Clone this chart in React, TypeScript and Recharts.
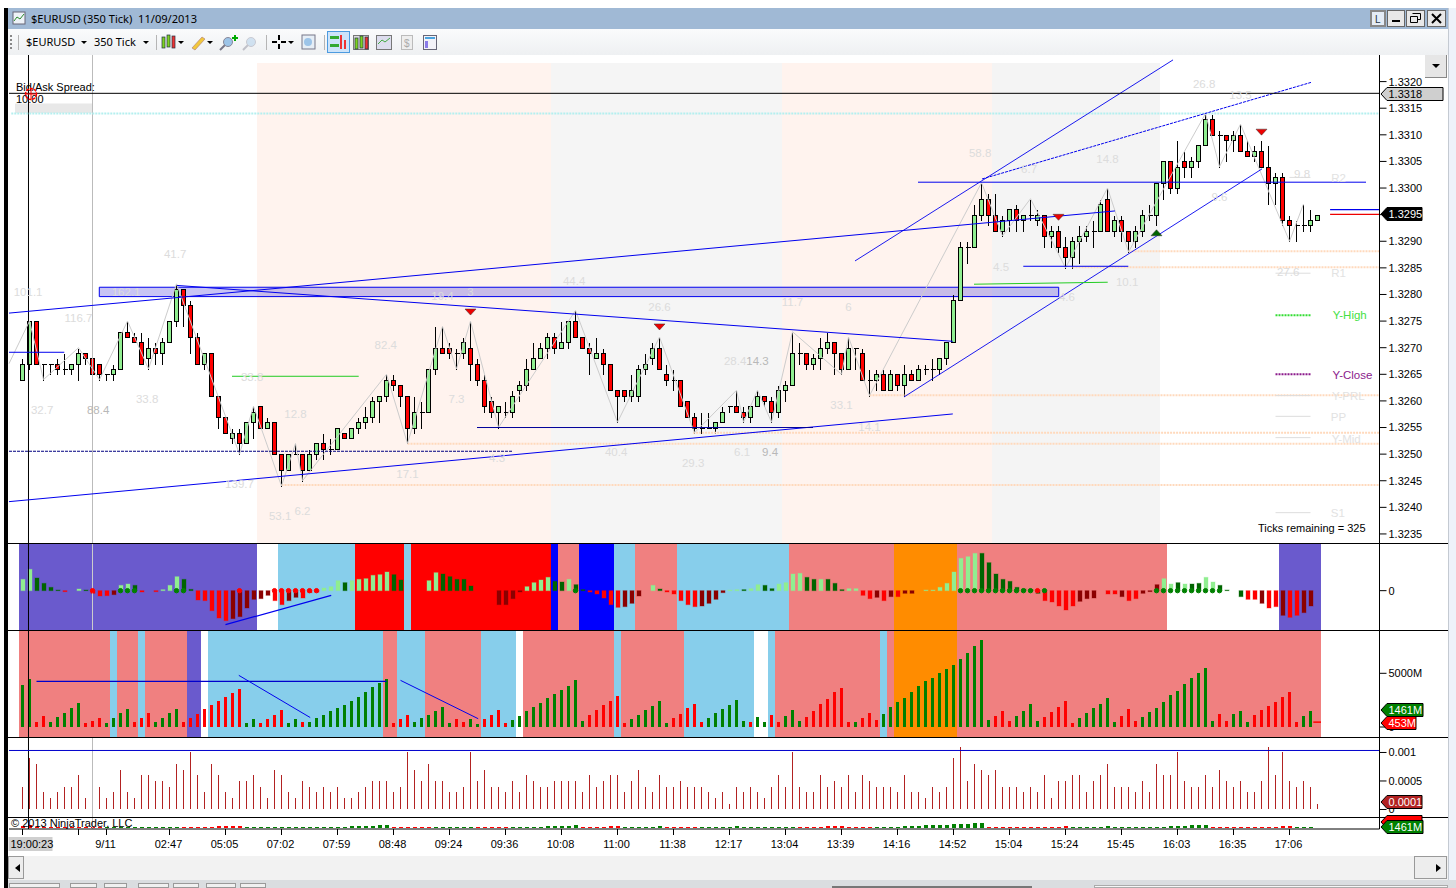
import React from 'react';
import { ComposedChart, Bar, Line, XAxis, YAxis, ReferenceArea, ReferenceLine, ReferenceDot } from 'recharts';

const opens = [3264,3267,3275,3267,3267,3267,3266,3266,3267,3269,3268,3267,3265,3265,3266,3273,3272,3271,3268,3270,3269,3271,3275,3281,3278,3272,3267,3269,3261,3257,3253,3254,3252,3256,3259,3255,3256,3250,3247,3250,3250,3247,3250,3252,3251,3251,3254,3253,3255,3256,3257,3260,3261,3264,3263,3261,3255,3258,3258,3266,3270,3270,3269,3269,3270,3267,3264,3260,3258,3258,3258,3262,3263,3266,3268,3270,3272,3270,3271,3275,3272,3270,3268,3269,3267,3262,3262,3261,3261,3266,3268,3270,3265,3264,3264,3260,3257,3255,3255,3255,3256,3259,3259,3258,3257,3259,3261,3260,3258,3262,3263,3269,3269,3267,3268,3270,3271,3269,3266,3270,3269,3264,3264,3265,3262,3265,3263,3265,3264,3266,3266,3266,3268,3271,3279,3289,3289,3295,3298,3295,3292,3294,3296,3294,3295,3294,3295,3291,3292,3289,3287,3290,3291,3292,3292,3298,3292,3294,3292,3290,3292,3295,3295,3301,3305,3300,3305,3304,3305,3308,3313,3310,3310,3309,3310,3307,3306,3307,3304,3301,3302,3294,3293,3293,3293,3294];
const highs = [3268,3275,3275,3267,3267,3268,3269,3267,3270,3269,3268,3267,3265,3267,3273,3275,3273,3273,3272,3271,3272,3275,3282,3281,3279,3273,3269,3269,3261,3257,3255,3255,3256,3259,3259,3257,3256,3250,3250,3252,3250,3251,3252,3254,3253,3255,3254,3255,3257,3259,3261,3261,3265,3265,3263,3261,3261,3260,3266,3274,3274,3271,3270,3272,3275,3268,3265,3261,3259,3260,3262,3264,3268,3271,3271,3273,3273,3275,3275,3277,3272,3271,3272,3270,3267,3262,3262,3265,3267,3269,3271,3272,3267,3266,3264,3260,3258,3258,3258,3256,3259,3259,3262,3259,3259,3262,3261,3261,3263,3264,3273,3271,3269,3269,3272,3273,3271,3269,3272,3270,3270,3266,3266,3266,3266,3265,3267,3266,3267,3267,3268,3268,3271,3280,3290,3290,3297,3301,3299,3299,3295,3296,3297,3295,3298,3296,3295,3293,3293,3291,3291,3293,3293,3294,3298,3300,3295,3295,3292,3293,3296,3297,3301,3305,3305,3309,3307,3306,3308,3314,3314,3311,3310,3311,3312,3309,3308,3309,3308,3303,3303,3295,3294,3297,3296,3295];
const lows = [3264,3266,3267,3264,3265,3265,3265,3265,3264,3267,3265,3264,3264,3264,3266,3272,3271,3267,3266,3267,3267,3271,3274,3274,3269,3267,3266,3261,3255,3254,3252,3250,3252,3253,3255,3255,3250,3244,3247,3250,3245,3247,3249,3249,3250,3251,3253,3253,3254,3255,3256,3256,3260,3262,3259,3252,3254,3255,3258,3265,3269,3268,3266,3268,3264,3263,3258,3257,3255,3257,3257,3260,3262,3266,3268,3268,3269,3270,3270,3272,3270,3265,3268,3265,3262,3256,3260,3260,3260,3265,3267,3266,3263,3262,3259,3257,3254,3254,3255,3254,3256,3258,3258,3256,3256,3259,3259,3256,3257,3260,3263,3267,3266,3266,3266,3269,3265,3265,3266,3266,3264,3261,3262,3262,3262,3262,3261,3264,3264,3265,3264,3265,3267,3271,3279,3286,3289,3294,3293,3292,3291,3292,3292,3292,3294,3293,3289,3289,3288,3285,3285,3286,3290,3289,3292,3292,3291,3290,3288,3289,3291,3294,3293,3298,3299,3299,3302,3302,3304,3308,3310,3304,3305,3307,3307,3306,3305,3304,3297,3297,3293,3290,3290,3292,3292,3294];
const closes = [3267,3275,3267,3267,3267,3266,3266,3267,3269,3268,3265,3265,3265,3266,3273,3272,3271,3267,3270,3269,3271,3275,3281,3278,3272,3267,3269,3261,3257,3254,3254,3252,3256,3258,3255,3256,3250,3247,3250,3250,3247,3250,3252,3251,3251,3255,3253,3255,3256,3257,3260,3261,3264,3263,3261,3255,3258,3258,3266,3270,3269,3269,3269,3271,3267,3264,3259,3258,3259,3258,3261,3263,3266,3268,3270,3272,3270,3271,3275,3272,3270,3269,3269,3267,3262,3261,3261,3262,3266,3267,3270,3266,3264,3264,3259,3257,3255,3255,3255,3256,3258,3259,3258,3257,3259,3261,3260,3258,3262,3263,3269,3269,3267,3268,3270,3271,3269,3266,3270,3270,3264,3264,3265,3262,3265,3263,3265,3264,3266,3266,3266,3268,3271,3279,3289,3289,3295,3298,3295,3292,3294,3296,3294,3295,3295,3295,3291,3292,3289,3287,3290,3291,3292,3292,3297,3292,3294,3292,3290,3292,3295,3295,3301,3305,3300,3304,3304,3305,3308,3313,3310,3310,3309,3310,3307,3306,3307,3304,3301,3302,3294,3293,3293,3293,3294,3295];

const zigIdx = [1,3,8,11,15,18,22,31,33,37,39,40,52,55,60,62,64,68,79,85,91,96,102,103,105,107,110,117,118,121,137,140,144,149,155,158,169,171,174,181,183];
const zigPips = [3275,3264,3270,3264,3275,3266,3282,3250,3259,3244,3252,3245,3265,3252,3274,3266,3275,3255,3277,3256,3272,3254,3262,3256,3262,3256,3273,3265,3272,3261,3301,3291,3298,3285,3300,3288,3314,3304,3312,3290,3297];

const macdValues = [34,64,38,22,10,2,-3,0,5,2,-8,-16,-15,-12,16,20,16,-4,0,-3,3,16,42,34,4,-28,-30,-60,-82,-90,-84,-78,-52,-26,-24,-14,-30,-42,-30,-20,-22,-6,-4,8,12,30,24,30,34,36,46,48,56,48,32,0,0,0,30,54,50,42,34,34,14,0,0,0,-42,-42,-24,-4,12,24,32,40,28,26,34,18,3,-4,-10,-22,-42,-50,-48,-38,-16,0,16,5,-4,-10,-30,-42,-48,-46,-38,-26,-6,2,3,3,6,18,16,6,20,24,50,52,40,34,34,34,22,3,6,6,-14,-24,-20,-30,-18,-18,-8,-8,0,2,2,10,22,56,97,102,112,112,84,50,34,28,10,5,3,-8,-30,-34,-46,-58,-46,-32,-24,-22,0,-10,-10,-18,-30,-24,-8,-3,18,36,20,24,20,20,22,40,26,16,2,0,-18,-26,-26,-38,-52,-48,-74,-80,-74,-66,-46,0];
const macdKinds = 'LLGGGGRGLGRRRDLLGRRRLLLGGRRRRRDDDDDDRRDDRRRLLLGLLLLLLGGGGGLLGGGGGGGGDDDDLLLLGGLGGRRRRRDDDDLGRRRRRDDDDLLGLLGGLLLLGGLGGGLLRRDRDRDDDLLLLLLLLGGGGGGGGGRRRRRDDDDRRDRRDDDLLGLGGLLGGGGRRDRRDRRDDDD';
const macdGreenDots = [14,15,16,22,23,79,134,135,136,137,138,139,140,141,142,143,144,146,162,163,164,165,166,167,168,169,170,171];
const macdRedDots = [10,31,36,37,38,39,40,41,42,145];

const volumeM = [3906,4464,465,1023,465,930,1302,1767,2232,372,558,837,372,837,1302,1674,465,837,1302,465,837,1302,1674,465,837,1209,1674,2046,2418,2790,3162,3534,372,744,372,744,1116,1581,372,744,465,465,837,1116,1488,1767,2046,2418,2790,3255,3720,4092,4464,372,744,1116,465,837,1116,1488,1860,372,744,465,744,279,744,1116,1581,372,651,1023,1488,1860,2232,2697,3069,3441,3813,4371,558,1116,1581,2046,2418,2883,372,744,1116,1581,1953,2418,372,837,1209,1767,2139,465,837,1302,1674,2046,2511,558,465,930,465,1116,465,1023,1581,558,930,1488,2139,2604,3255,3627,465,465,837,1302,651,1209,1860,2325,2697,3255,3813,4278,4557,5022,5394,5766,6324,6882,7533,8091,651,1023,1488,558,1023,1488,2139,558,930,1395,1860,2418,372,837,1302,1767,2139,2697,465,1023,1674,558,930,1395,1767,2325,2976,3348,3999,4557,5022,5487,558,1209,558,1209,1488,465,1116,1581,1953,2325,2790,3255,465,1023,1488,0];
const volumeKinds = 'ggrrgggggrrrggggrrrggggrrrrrrrrrggrrrrggrgggggggggggg'
  + 'rrrggggg' + 'grrggrrrrg' + 'gggggggggg' + 'rrrrrrgggg' + 'ggrrrrrggg' + 'gggrggrrgg' + 'grrrrrrrgr' + 'rrgggggggg' + 'ggggggggrr' + 'rggggrrrrr' + 'ggggggrrrg' + 'gggggggggg' + 'rrgggrrrrr' + 'rrgggr';
const stripRedRanges = [[0,11],[23,31],[53,58],[65,69],[80,85],[92,96],[111,121],[138,149],[170,181]];

const atrPips = [4,9,8,3,2,3,4,4,6,2,3,4,2,3,7,3,2,6,6,5,5,4,8,7,10,6,3,8,6,3,2,5,5,6,4,2,7,6,3,2,5,4,3,4,3,4,2,2,3,4,5,5,5,3,4,10,7,5,8,5,5,3,3,4,10,5,7,4,4,3,5,3,6,5,4,4,5,5,5,5,3,6,4,5,6,6,3,5,7,4,3,6,4,4,5,4,4,4,3,2,3,1,4,3,4,3,2,4,6,4,10,4,3,3,6,4,5,4,6,3,6,5,4,4,4,3,6,3,3,2,4,3,4,9,11,5,8,7,6,7,4,4,4,3,4,3,6,2,5,5,6,6,3,5,6,8,4,4,4,3,5,3,8,6,6,10,5,4,4,6,4,7,5,4,5,3,3,5,11,6,10,5,4,5,4,1];

const priceBands = [[33.5,75.5,'#FFF3EE'],[75.5,108.5,'#F5F5F5'],[108.5,138.5,'#FFF3EE'],[138.5,162.5,'#F4F4F4']];
const SB='#6A5ACD', SKY='#87CEEB', COR='#F08080', RED='#FF0000', BLU='#0000FF', ORG='#FF8C00', WHT='#FFFFFF';
const macdZones = [[-0.5,33.5,SB],[33.5,36.5,WHT],[36.5,47.5,SKY],[47.5,54.5,RED],[54.5,55.5,SKY],[55.5,75.5,RED],[75.5,76.5,BLU],[76.5,79.5,COR],[79.5,84.5,BLU],[84.5,87.5,SKY],[87.5,93.5,COR],[93.5,109.5,SKY],[109.5,124.5,COR],[124.5,133.5,ORG],[133.5,163.5,COR],[163.5,179.5,WHT],[179.5,185.5,SB]];
const volumeZones = [[-0.5,12.5,COR],[12.5,13.5,SKY],[13.5,16.5,COR],[16.5,17.5,SKY],[17.5,23.5,COR],[23.5,25.5,SB],[25.5,26.5,WHT],[26.5,51.5,SKY],[51.5,53.5,COR],[53.5,57.5,SKY],[57.5,65.5,COR],[65.5,70.5,SKY],[70.5,71.5,WHT],[71.5,84.5,COR],[84.5,85.5,SKY],[85.5,94.5,COR],[94.5,104.5,SKY],[104.5,106.5,WHT],[106.5,107.5,SKY],[107.5,122.5,COR],[122.5,123.5,SKY],[123.5,124.5,COR],[124.5,133.5,ORG],[133.5,185.5,COR]];

const X_MIN = -1.92857, X_MAX = 193.857;
const TL = '#0000EE';
// [x1, pips1, x2, pips2, colour, dash, width]
const priceSegments: any[] = [
  [X_MIN,3276.5,156.07,3295.7,TL,'',1],[22.07,3281.7,132.9,3271.2,TL,'',1],[X_MIN,3241.07,132.9,3257.55,TL,'',1],
  [118.93,3286.3,164.36,3324.08,TL,'',0.9],[125.93,3260.74,177.07,3303.6,TL,'',0.9],[137.07,3301.7,184.07,3319.85,TL,'3 1',1],
  [127.93,3301.1,191.93,3301.1,TL,'',1],[64.93,3255,112.93,3255,'#00009A','',1],[X_MIN,3250.54,70.07,3250.54,'#000080','3 1',1],
  [X_MIN,3269.14,5.97,3269.14,TL,'',1],[142.97,3285.3,157.97,3285.3,TL,'',1],[29.93,3264.63,48.03,3264.63,'#22CC22','',1],
  [135.93,3281.93,155.03,3282.3,'#22CC22','',1],[186.8,3295.94,X_MAX,3295.94,TL,'',1.2],[186.8,3295.04,X_MAX,3295.04,'#EE0000','',1.2],
];
const peachLevels = [[121,3261.06],[95.8,3254.03],[55,3251.97],[37,3244.2],[158,3288.13],[150,3285.12]];
const pivotLines: any[] = [[181,3302,'#DDDDDD',''],[179,3284,'#DDDDDD',''],[179,3276.1,'#33DD33','2 1'],[179,3265,'#8B1A8B','2 1'],[179,3261,'#DDDDDD',''],[179,3257.1,'#DDDDDD',''],[179,3253.1,'#DDDDDD',''],[179,3239,'#DDDDDD','']];
const pivotLabels: any[] = [['R2',188,3301.9,'#E2E2E2'],['R1',188,3284,'#E2E2E2'],['Y-High',189.6,3276.2,'#45E045'],['Y-Close',190,3264.9,'#8B1A8B'],['Y-PRL',189.4,3261,'#E2E2E2'],['PP',188,3257,'#E2E2E2'],['Y-Mid',189.1,3252.9,'#E2E2E2'],['S1',187.9,3239,'#E2E2E2']];
const swingLabels: any[] = [['41.7',21.8,3287.6],['101.1',0.8,3280.5],['162.1',14.8,3280.5],['116.7',8,3275.6],['32.7',2.8,3258.3],['88.4',10.8,3258.3,1],['33.8',17.8,3260.4],['33.8',32.8,3264.5],['82.4',51.9,3270.5],['12.8',39,3257.6],['7.3',62,3260.4],['139.7',31,3244.4],['53.1',36.8,3238.4],['6.2',40,3239.3],['17.1',55,3246.3],['19.4',60,3279.7],['3',64,3280.5],['44.4',78.8,3282.5],['26.6',91,3277.7],['11.7',110,3278.6],['6',118,3277.7],['28.4',101.8,3267.5],['14.3',105,3267.5,1],['33.1',117,3259.2],['14.1',121,3255.1],['40.4',84.8,3250.4],['29.3',95.8,3248.3],['6.1',102.8,3250.4],['9.4',106.8,3250.4,1],['4.3',67.8,3249.3],['58.8',136.8,3306.6],['6.7',143.8,3303.6],['14.8',155,3305.5],['26.8',168.8,3319.6],['13.5',174,3317.5],['9.8',182.8,3302.7],['9.6',171,3298.3],['4.5',139.8,3285.2],['10.1',157.8,3282.4],['4.6',149.2,3279.5],['27.6',180.8,3284.2]];
const triangles: any[] = [[64,3276.7,'#EE0000',0],[91,3273.9,'#EE0000',0],[148,3294.5,'#EE0000',0],[177,3310.5,'#EE0000',0],[162,3291.6,'#006400',1]];

const priceTicks = [3235,3240,3245,3250,3255,3260,3265,3270,3275,3280,3285,3290,3295,3300,3305,3310,3315,3320];
const xTickIndex = [0,8,12,21,29,37,45,53,61,69,77,85,93,101,109,117,125,133,141,149,157,165,173,181];
const xTickLabels = ['19:00:23','','9/11','02:47','05:05','07:02','07:59','08:48','09:24','09:36','10:08','11:00','11:38','12:17','13:04','13:39','14:16','14:52','15:04','15:24','15:45','16:03','16:35','17:06'];

const rows = opens.map((o, i) => {
  const zi = zigIdx.indexOf(i);
  return {
    i, open: o, high: highs[i], low: lows[i], close: closes[i], range: [lows[i], highs[i]],
    zig: zi >= 0 ? zigPips[zi] : null,
    macd: macdValues[i], macdKind: macdKinds[i],
    gDot: macdGreenDots.includes(i) ? 0 : null, rDot: macdRedDots.includes(i) ? 0 : null,
    vol: volumeM[i], volKind: volumeKinds[i], atr: atrPips[i],
    stripRed: stripRedRanges.some(([a, b]) => i >= a && i <= b),
  };
});

const FONT = '"Liberation Sans", Arial, sans-serif';
const UI_FONT = '"Noto Sans", sans-serif';

const Candle = (p: any) => {
  const { x, y, width, height, payload: d } = p;
  const h = Math.abs(height), top = Math.min(y, y + height);
  const k = d.high > d.low ? h / (d.high - d.low) : 0;
  const cx = Math.floor(x + width / 2) + 0.5;
  const yOf = (v: number) => Math.round(top + (d.high - v) * k) + 0.5;
  const bt = yOf(Math.max(d.open, d.close)), bb = yOf(Math.min(d.open, d.close));
  return (
    <g shapeRendering="crispEdges">
      <line x1={cx} x2={cx} y1={yOf(d.high)} y2={yOf(d.low)} stroke="#000" />
      {bb - bt < 1
        ? <line x1={cx - 2} x2={cx + 3} y1={bt} y2={bt} stroke="#000" />
        : <rect x={cx - 2} y={bt} width={4} height={bb - bt} fill={d.close > d.open ? '#90EE90' : '#FF0000'} stroke="#000" />}
    </g>
  );
};
const macdFill: any = { L: '#90EE90', G: '#006400', R: '#FF0000', D: '#8B0000' };
const MacdBar = (p: any) => {
  const { x, y, width, height, payload: d } = p;
  if (!d.macd) return null;
  const top = Math.min(y, y + height), h = Math.abs(height);
  return <rect x={x} y={top} width={width} height={h} fill={macdFill[d.macdKind]} stroke={macdFill[d.macdKind]} strokeOpacity={0.35} />;
};
const VolBar = (p: any) => {
  const { x, y, width, height, payload: d } = p;
  if (!d.vol) return null;
  return <rect x={x} y={y} width={width} height={height} fill={d.volKind === 'g' ? '#008000' : '#FF0000'} shapeRendering="crispEdges" />;
};
const AtrBar = (p: any) => <rect x={p.x} y={p.y} width={p.width} height={p.height} fill="#B22222" shapeRendering="crispEdges" />;
const StripBar = (p: any) => {
  const { x, y, width, height, payload: d } = p;
  if (!d.vol) return null;
  return <rect x={x} y={y} width={width} height={height} fill={d.stripRed ? '#FF0000' : '#008000'} shapeRendering="crispEdges" />;
};
const Tri = (down: number, fill: string) => (p: any) => {
  const { cx, cy } = p;
  const pts = down ? `${cx - 5.5},${cy - 3} ${cx + 5.5},${cy - 3} ${cx},${cy + 3}` : `${cx - 5.5},${cy + 3} ${cx + 5.5},${cy + 3} ${cx},${cy - 3}`;
  return <polygon points={pts} fill={fill} stroke="#333" strokeWidth={0.5} />;
};

const axisTick = { fill: '#000', fontSize: 11, fontFamily: FONT };
const hiddenX = <XAxis type="number" dataKey="i" domain={[X_MIN, X_MAX]} allowDataOverflow hide height={0} />;

const BottomTick = (p: any) => {
  const { x, y, payload } = p;
  const label = xTickLabels[xTickIndex.indexOf(payload.value)];
  if (!label) return null;
  if (label.length > 5) {
    return (
      <g>
        <rect x={x - 14} y={y + 0} width={44} height={14} fill="#CFCFCF" />
        <text x={x - 12} y={y + 11} fontSize={11} fontFamily={FONT} fill="#000">{label}</text>
      </g>
    );
  }
  return <text x={x - 1} y={y + 11} textAnchor="middle" fontSize={11} fontFamily={FONT} fill="#000">{label}</text>;
};

const Tag = ({ x, y, w, text, fill, color }: any) => (
  <g>
    <polygon points={`${x},${y} ${x + 6},${y - 6.5} ${x + w},${y - 6.5} ${x + w},${y + 6.5} ${x + 6},${y + 6.5}`} fill={fill} stroke="#000" />
    {text ? <text x={x + 7.5} y={y + 4} fontSize={11} fontFamily={FONT} fill={color}>{text}</text> : null}
  </g>
);

const Caret = ({ x, y }: any) => <polygon points={`${x},${y} ${x + 6},${y} ${x + 3},${y + 3}`} fill="#000" />;

const CandleIcon = ({ x, y }: any) => (
  <g>
    <rect x={x} y={y + 2} width={3} height={11} fill="#7ED321" stroke="#234" strokeWidth={0.7} />
    <rect x={x + 5} y={y} width={3} height={12} fill="#7ED321" stroke="#234" strokeWidth={0.7} />
    <rect x={x + 10} y={y + 1} width={3} height={12} fill="#E33" stroke="#234" strokeWidth={0.7} />
  </g>
);
const Mag = ({ x, y, faded, plus }: any) => (
  <g opacity={faded ? 0.4 : 1}>
    <line x1={x} y1={y + 14} x2={x + 6} y2={y + 8} stroke="#778" strokeWidth={2} />
    <circle cx={x + 8} cy={y + 6} r={4.5} fill="#9CC4E8" stroke="#889" />
    {plus && <path d={`M${x + 12} ${y + 2}h6M${x + 15} ${y - 1}v6`} stroke="#0A0" strokeWidth={2} />}
  </g>
);
const Box = (p: any) => <div style={{ position: 'absolute', boxSizing: 'border-box', ...p.s }} />;

const Chrome = () => (
  <>
    <Box s={{ left: 4, top: 8, width: 4, height: 880, background: '#000' }} />
    <Box s={{ left: 8, top: 8, width: 1440, height: 21, background: '#A0B9D5' }} />
    <Box s={{ left: 8, top: 29, width: 1440, height: 26, background: 'linear-gradient(#FAFBFC,#EEF0F2)' }} />
    <Box s={{ left: 1448, top: 8, width: 8, height: 880, background: '#EEF2FA', borderLeft: '1px solid #C4CAD2' }} />
    <Box s={{ left: 8, top: 856, width: 1440, height: 24, background: '#F2F2F2' }} />
    <Box s={{ left: 8, top: 880, width: 1448, height: 8, background: '#DADDE0' }} />
    {[[9,51],[70,27],[104,23],[138,31],[173,26],[206,30],[240,26]].map((t, k) => <Box key={k} s={{ left: t[0], top: 883, width: t[1], height: 5, background: '#F0F0F0', border: '1px solid #999' }} />)}
    <Box s={{ left: 832, top: 886, width: 200, height: 2, background: '#FFF', border: '1px solid #777' }} />
    <Box s={{ left: 1094, top: 885, width: 354, height: 3, background: '#F6F6F6', border: '1px solid #AAA' }} />
    <Box s={{ left: 8, top: 856, width: 16, height: 23, background: '#EDEDED', border: '1px solid #999' }} />
    <Box s={{ left: 1414, top: 856, width: 33, height: 23, background: '#EDEDED', border: '1px solid #999' }} />
    <Box s={{ left: 1425, top: 55, width: 22, height: 23, background: '#E6E6E6', borderRight: '1px solid #888', borderBottom: '1px solid #888' }} />
  </>
);

const OverlayTop = () => (
  <svg width={1456} height={888} style={{ position: 'absolute', left: 0, top: 0, pointerEvents: 'none' }}>
    {/* title */}
    <rect x={13} y={12} width={12} height={12} fill="#EDF2F8" stroke="#667" />
    <path d="M14 21 l3 -4 l3 2 l4 -5" stroke="#2A8A2A" fill="none" />
    <text x={31} y={23} fontSize={11.3} fontFamily={UI_FONT} fill="#000" textLength={166} lengthAdjust="spacingAndGlyphs">{'$EURUSD (350 Tick)\u00A0\u00A011/09/2013'}</text>
    {/* toolbar */}
    <path d="M11 35v14" stroke="#888" strokeDasharray="2 2" strokeWidth={2} />
    <path d="M18.5 35v15M156.5 35v15M266.5 35v15M324.5 35v15" stroke="#B5B5B5" />
    <text x={26} y={46} fontSize={11} fontFamily={UI_FONT} fill="#000">$EURUSD</text>
    <Caret x={81} y={41} />
    <text x={94} y={46} fontSize={11} fontFamily={UI_FONT} fill="#000">350 Tick</text>
    <Caret x={143} y={41} />
    <CandleIcon x={162} y={35} />
    <Caret x={178} y={41} />
    <path d="M192 48 L202 37 L205 39 L195 50 Z" fill="#F2C83C" stroke="#A77" strokeWidth={0.6} />
    <Caret x={207} y={41} />
    <Mag x={220} y={36} plus />
    <Mag x={243} y={36} faded />
    <path d="M272 42h5M281 42h5M279 35v5M279 44v5" stroke="#000" strokeWidth={2} />
    <Caret x={288} y={41} />
    <rect x={302} y={35} width={13} height={14} fill="#E6EEF6" stroke="#778" />
    <circle cx={308} cy={42} r={4} fill="#9CC4E8" />
    <rect x={327.5} y={31.5} width={22} height={21} fill="#CDE4FA" stroke="#4C9BE0" />
    <path d="M330 36h9v3h-9zM330 44h9v3h-9z" fill="#3A3" />
    <path d="M341 35v14M345 40v9" stroke="#E33" strokeWidth={2} />
    <rect x={353.5} y={35.5} width={15} height={14} fill="#DDD" stroke="#777" />
    <CandleIcon x={355} y={36} />
    <rect x={376.5} y={35.5} width={15} height={14} fill="#DDE" stroke="#777" />
    <path d="M378 44l4-4 3 2 5-4" stroke="#4A4" fill="none" />
    <rect x={401.5} y={35.5} width={11} height={14} fill="#EEE" stroke="#BBB" />
    <text x={404} y={47} fontSize={10} fontFamily={FONT} fill="#AAA">$</text>
    <rect x={423.5} y={35.5} width={13} height={14} fill="#F2F2F8" stroke="#667" />
    <rect x={425} y={37} width={10} height={2} fill="#4AA3DF" />
    <rect x={425} y={41} width={3} height={7} fill="#8A7BE8" />
    {/* window buttons */}
    <rect x={1371} y={11} width={14} height={15} fill="#E4ECF6" stroke="#888" strokeWidth={2} />
    <text x={1375} y={23} fontSize={10} fontFamily={FONT} fill="#234">L</text>
    <rect x={1387.5} y={10.5} width={17} height={16} fill="#E8E8E8" stroke="#666" />
    <rect x={1392} y={20} width={8} height={2} fill="#000" />
    <rect x={1406.5} y={10.5} width={18} height={16} fill="#E8E8E8" stroke="#666" />
    <path d="M1412.5 13.5h8v6h-3M1410.5 16.5h7v6h-7z" fill="none" stroke="#000" />
    <rect x={1427.5} y={10.5} width={18} height={16} fill="#E8E8E8" stroke="#666" />
    <path d="M1432 14l9 9M1441 14l-9 9" stroke="#000" strokeWidth={2} />
    {/* dropdown and scroll arrows */}
    <polygon points="1432,64 1440,64 1436,68" fill="#000" />
    <polygon points="20,864 20,872 15,868" fill="#000" />
    <polygon points="1436,864 1436,872 1441,868" fill="#000" />
    {/* panel borders */}
    <path d="M8 543.5H1448M8 630.5H1448M8 737.5H1448M8 817.5H1448" stroke="#000" shapeRendering="crispEdges" />
    {/* chart notes */}
    <text x={16} y={91} fontSize={11} fontFamily={FONT} fill="#000">Bid/Ask Spread:</text>
    <text x={16} y={103} fontSize={11} fontFamily={FONT} fill="#000">10.00</text>
    <circle cx={31} cy={94} r={5.5} fill="none" stroke="#F00" strokeWidth={1.5} strokeDasharray="3 1" />
    <path d="M26 94h10M31 89v10" stroke="#F00" />
    <text x={1258} y={532} fontSize={11} fontFamily={FONT} fill="#000">Ticks remaining = 325</text>
    <text x={11} y={827} fontSize={11} fontFamily={FONT} fill="#000">© 2013 NinjaTrader, LLC</text>
    {/* axis tags */}
    <Tag x={1381} y={94} w={62} text="1.3318" fill="#CFCFCF" color="#000" />
    <Tag x={1381} y={214} w={41} text="1.3295" fill="#000" color="#FFF" />
    <Tag x={1381} y={710} w={42} text="1461M" fill="#008000" color="#FFF" />
    <Tag x={1381} y={723} w={35} text="453M" fill="#FF0000" color="#FFF" />
    <Tag x={1381} y={802} w={41} text="0.0001" fill="#B22222" color="#FFF" />
    <Tag x={1381} y={822} w={41} text="" fill="#FF0000" color="#FFF" />
    <Tag x={1381} y={827} w={42} text="1461M" fill="#008000" color="#FFF" />
  </svg>
);

const panelStyle = (top: number): React.CSSProperties => ({ position: 'absolute', left: 0, top });
const MARGIN = { top: 0, right: 0, bottom: 0, left: 9 };
const AXIS_W = 76.5;

export default function App() {
  return (
    <div style={{ position: 'absolute', left: 0, top: 0, width: 1456, height: 888, background: '#FFF', overflow: 'hidden', fontFamily: FONT }}>
      <Chrome />

      {/* price panel */}
      <div style={panelStyle(55)}>
        <ComposedChart width={1456} height={488} data={rows} margin={MARGIN}>
          {hiddenX}
          <YAxis orientation="right" width={AXIS_W} domain={[3233.3, 3325]} ticks={priceTicks} tick={axisTick} tickSize={7} stroke="#000" tickFormatter={(v: number) => (1 + v / 10000).toFixed(4)} allowDataOverflow interval={0} />
          {priceBands.map((b: any, k) => <ReferenceArea key={k} x1={b[0]} x2={b[1]} y1={3233.3} y2={3323.5} fill={b[2]} fillOpacity={1} stroke="none" />)}
          <ReferenceArea x1={-1.07} x2={9.93} y1={3314.1} y2={3315.9} fill="#E8E8E8" fillOpacity={1} stroke="none" />
          <ReferenceLine x={0.857} stroke="#000" segment={[{ x: 0.857, y: 3324 }, { x: 0.857, y: 3233.3 }]} />
          <ReferenceLine x={10} stroke="#BBB" segment={[{ x: 10, y: 3323.5 }, { x: 10, y: 3233.3 }]} />
          <ReferenceLine segment={[{ x: -1.6, y: 3314.02 }, { x: X_MAX, y: 3314.02 }]} stroke="#B4EFEF" strokeWidth={2} strokeDasharray="2 1" />
          {peachLevels.map((l, k) => <ReferenceLine key={k} segment={[{ x: l[0], y: l[1] }, { x: X_MAX, y: l[1] }]} stroke="#FFD9BC" strokeWidth={2} strokeDasharray="2 1" />)}
          <ReferenceLine segment={[{ x: X_MIN, y: 3267 }, { x: 1, y: 3275 }]} stroke="#CCC" />
          <Line dataKey="zig" stroke="#CCC" strokeWidth={1} dot={false} connectNulls isAnimationActive={false} />
          <Bar dataKey="range" barSize={5} shape={Candle} isAnimationActive={false} />
          <ReferenceArea x1={10.97} x2={148.03} y1={3279.6} y2={3281.36} fill="#3A2BD8" fillOpacity={0.28} stroke="#0000EE" strokeWidth={1} />
          {priceSegments.map((s, k) => <ReferenceLine key={k} segment={[{ x: s[0], y: s[1] }, { x: s[2], y: s[3] }]} stroke={s[4]} strokeDasharray={s[5] || undefined} strokeWidth={s[6]} />)}
          <ReferenceLine segment={[{ x: X_MIN, y: 3317.8 }, { x: X_MAX, y: 3317.8 }]} stroke="#000" />
          {pivotLines.map((l, k) => <ReferenceLine key={k} segment={[{ x: l[0], y: l[1] }, { x: 184, y: l[1] }]} stroke={l[2]} strokeDasharray={l[3] || undefined} strokeWidth={l[3] ? 2 : 1} />)}
          {triangles.map((t, k) => <ReferenceDot key={k} x={t[0]} y={t[1]} r={5} shape={Tri(t[3] ? 0 : 1, t[2])} />)}
          {swingLabels.map((s, k) => <ReferenceDot key={k} x={s[1]} y={s[2]} r={0} fill="none" stroke="none" label={{ value: s[0], position: 'center', fill: s[3] ? '#B8B8B8' : '#DCDCDC', fontSize: 11.5, fontFamily: FONT }} />)}
          {pivotLabels.map((s, k) => <ReferenceDot key={k} x={s[1]} y={s[2]} r={0} fill="none" stroke="none" label={{ value: s[0], position: 'center', fill: s[3], fontSize: 11.5, fontFamily: FONT }} />)}
        </ComposedChart>
      </div>

      {/* oscillator panel */}
      <div style={panelStyle(544)}>
        <ComposedChart width={1456} height={86} data={rows} margin={MARGIN}>
          {hiddenX}
          <YAxis orientation="right" width={AXIS_W} domain={[-118, 140]} ticks={[0]} tick={axisTick} tickSize={7} stroke="#000" allowDataOverflow interval={0} />
          {macdZones.map((z: any, k) => <ReferenceArea key={k} x1={z[0]} x2={z[1]} fill={z[2]} fillOpacity={1} stroke="none" />)}
          <ReferenceLine x={0.857} stroke="#000" />
          <ReferenceLine x={10} stroke="#CCC" />
          <Bar dataKey="macd" barSize={4} shape={MacdBar} isAnimationActive={false} />
          <Line dataKey="gDot" stroke="none" dot={{ r: 2.2, fill: '#008000', stroke: '#008000' }} connectNulls={false} isAnimationActive={false} />
          <Line dataKey="rDot" stroke="none" dot={{ r: 2.2, fill: '#FF0000', stroke: '#FF0000' }} connectNulls={false} isAnimationActive={false} />
          <ReferenceLine segment={[{ x: 29, y: -102 }, { x: 44.1, y: -14 }]} stroke="#0000EE" strokeWidth={1.2} />
        </ComposedChart>
      </div>

      {/* volume panel */}
      <div style={panelStyle(631)}>
        <ComposedChart width={1456} height={106} data={rows} margin={MARGIN}>
          {hiddenX}
          <YAxis orientation="right" width={AXIS_W} domain={[-931, 8938]} ticks={[0, 5000]} tick={axisTick} tickSize={7} stroke="#000" tickFormatter={(v: number) => (v ? `${v}M` : '0')} allowDataOverflow interval={0} />
          {volumeZones.map((z: any, k) => <ReferenceArea key={k} x1={z[0]} x2={z[1]} fill={z[2]} fillOpacity={1} stroke="none" />)}
          <ReferenceLine x={0.857} stroke="#000" />
          <Bar dataKey="vol" barSize={3} shape={VolBar} isAnimationActive={false} />
          <ReferenceLine segment={[{ x: 2, y: 4255 }, { x: 52, y: 4255 }]} stroke="#0000CC" strokeWidth={1.2} />
          <ReferenceLine segment={[{ x: 30.9, y: 4808 }, { x: 41.1, y: 883 }]} stroke="#0000EE" />
          <ReferenceLine segment={[{ x: 54, y: 4343 }, { x: 65.1, y: 772 }]} stroke="#0000EE" />
          <ReferenceLine segment={[{ x: 184.4, y: 453 }, { x: 185.5, y: 453 }]} stroke="#FF0000" strokeWidth={1.5} />
        </ComposedChart>
      </div>

      {/* range panel */}
      <div style={panelStyle(738)}>
        <ComposedChart width={1456} height={79} data={rows} margin={MARGIN}>
          {hiddenX}
          <YAxis orientation="right" width={AXIS_W} domain={[-1.32, 12.54]} ticks={[0, 5, 10]} tick={axisTick} tickSize={7} stroke="#000" tickFormatter={(v: number) => (v === 0 ? '0' : String(v / 10000))} allowDataOverflow interval={0} />
          <ReferenceLine x={0.857} stroke="#000" />
          <ReferenceLine x={10} stroke="#BBB" />
          <ReferenceLine y={10.35} stroke="#0000CC" />
          <Bar dataKey="atr" barSize={1} shape={AtrBar} isAnimationActive={false} />
        </ComposedChart>
      </div>

      {/* strip panel with the time axis */}
      <div style={panelStyle(817)}>
        <ComposedChart width={1456} height={38} data={rows} margin={MARGIN}>
          <XAxis type="number" dataKey="i" domain={[X_MIN, X_MAX]} allowDataOverflow ticks={xTickIndex} interval={0} tick={BottomTick} tickSize={6} height={26} stroke="#000" />
          <YAxis orientation="right" width={AXIS_W} domain={[-1600, 17600]} ticks={[]} stroke="#000" allowDataOverflow tick={false} />
          <ReferenceLine x={0.857} stroke="#000" />
          <ReferenceLine x={10} stroke="#BBB" />
          <Bar dataKey="vol" barSize={4} minPointSize={1} shape={StripBar} isAnimationActive={false} />
        </ComposedChart>
      </div>

      <OverlayTop />
    </div>
  );
}
